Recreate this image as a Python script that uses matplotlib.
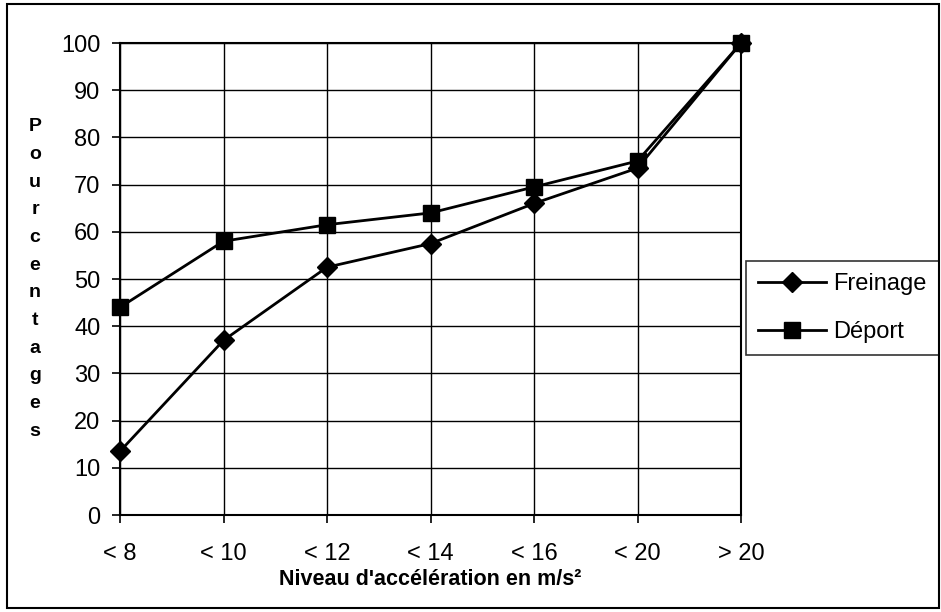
import numpy as np
import matplotlib
matplotlib.use('Agg')
import matplotlib.pyplot as plt
from matplotlib.patches import Rectangle

categories = ['< 8', '< 10', '< 12', '< 14', '< 16', '< 20', '> 20']
freinage = [13.5, 37, 52.5, 57.5, 66, 73.5, 100]
deport = [44, 58, 61.5, 64, 69.5, 75, 100]

plt.rcParams['font.family'] = ['Liberation Sans', 'DejaVu Sans']

W, H = 941, 612
fig = plt.figure(figsize=(W / 100, H / 100), dpi=100)
# outer frame around the whole chart
fig.add_artist(Rectangle((7 / W, 1 - 608 / H), 932 / W, 604 / H, transform=fig.transFigure,
                         fill=False, edgecolor='black', lw=1.5))
ax = fig.add_axes([120/W, 1-515/H, 621/W, 472/H])

x = np.arange(len(categories))
ax.plot(x, freinage, color='black', lw=2, marker='D', ms=10.5, label='Freinage', clip_on=False, zorder=3)
ax.plot(x, deport, color='black', lw=2, marker='s', ms=11, label='Déport', clip_on=False, zorder=3)

ax.set_xlim(0, len(categories) - 1)
ax.set_ylim(0, 100)
ax.set_yticks(range(0, 101, 10))
ax.set_xticks(x)
ax.set_xticklabels(categories)
ax.grid(True, color='black', lw=1)
ax.set_axisbelow(True)
for s in ax.spines.values():
    s.set_linewidth(1.5)
ax.tick_params(axis='both', labelsize=17, length=6, width=1.2, direction='out')
ax.tick_params(axis='x', pad=14.5)
ax.tick_params(axis='y', pad=8)
ax.set_xlabel("Niveau d'accélération en m/s²", fontsize=15.5, fontweight='bold', labelpad=2.5)

fig.text(35/W, 1-279/H, '\n'.join('Pourcentages'), fontsize=14, fontweight='bold',
         ha='center', va='center', linespacing=1.82)

leg = ax.legend(loc='center left', bbox_to_anchor=(746/W, 1-308/H),
                bbox_transform=fig.transFigure, fontsize=17, frameon=True,
                fancybox=False, edgecolor='black', handlelength=2.9,
                borderpad=0.5, labelspacing=1.1, handletextpad=0.3, borderaxespad=0)
leg.get_frame().set_linewidth(1.2)

fig.savefig('out.png', dpi=100)
